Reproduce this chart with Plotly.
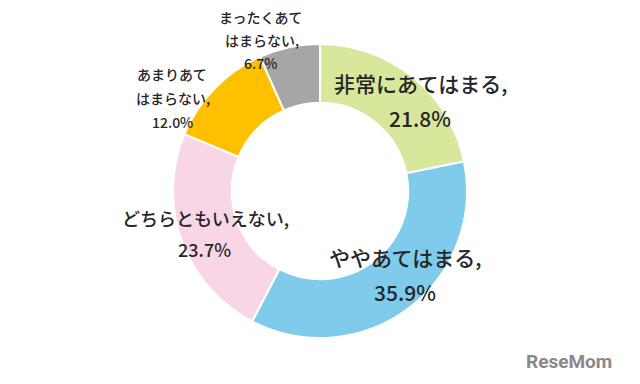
import plotly.graph_objects as go

categories = ["非常にあてはまる", "ややあてはまる", "どちらともいえない", "あまりあてはまらない", "まったくあてはまらない"]
label_lines = [["非常にあてはまる,"], ["ややあてはまる,"], ["どちらともいえない,"],
               ["あまりあて", "はまらない,"], ["まったくあて", "はまらない,"]]
values = [21.8, 35.9, 23.7, 12.0, 6.7]
colors = ["#d7e79b", "#7ecbec", "#f9d6e6", "#ffc000", "#a6a6a6"]

W, H = 640, 384
OFF = 8  # page body margin offset


def px(x):
    return (x - OFF) / W


def py(y):
    return 1 - (y - OFF) / H


fig = go.Figure(go.Pie(
    labels=categories, values=values, hole=0.6, sort=False, direction="clockwise",
    rotation=0, marker=dict(colors=colors, line=dict(color="white", width=2)),
    textinfo="none", hoverinfo="label+percent", showlegend=False,
    domain=dict(x=[px(173), px(467)], y=[py(338), py(44)]),
))

positions = [
    [(420, 83), (420, 118)],
    [(405, 257), (405, 292)],
    [(205, 218), (204, 249)],
    [(172, 74), (173, 98), (172, 122)],
    [(260, 17), (262, 40), (260, 63)],
]
sizes = [21, 21, 18, 14, 14]
annotations = []
for lines, val, pos, sz in zip(label_lines, values, positions, sizes):
    texts = lines + [f"{val:.1f}%"]
    for t, (x, y) in zip(texts, pos):
        annotations.append(dict(
            text=t, x=px(x), y=py(y), xref="paper", yref="paper",
            showarrow=False, xanchor="center", yanchor="middle",
            font=dict(size=sz, color="#262626", family="Noto Sans CJK JP", weight=500),
        ))
annotations.append(dict(
    text="<b>ReseMom</b>", x=px(614), y=py(361), xref="paper", yref="paper",
    showarrow=False, xanchor="right", yanchor="middle",
    font=dict(size=19, color="#8a8a8a", family="Roboto"),
))

fig.update_layout(
    width=W, height=H, margin=dict(l=0, r=0, t=0, b=0),
    paper_bgcolor="white", plot_bgcolor="white",
    annotations=annotations,
    font=dict(family="Noto Sans CJK JP"),
)
fig.write_html("out.html")
